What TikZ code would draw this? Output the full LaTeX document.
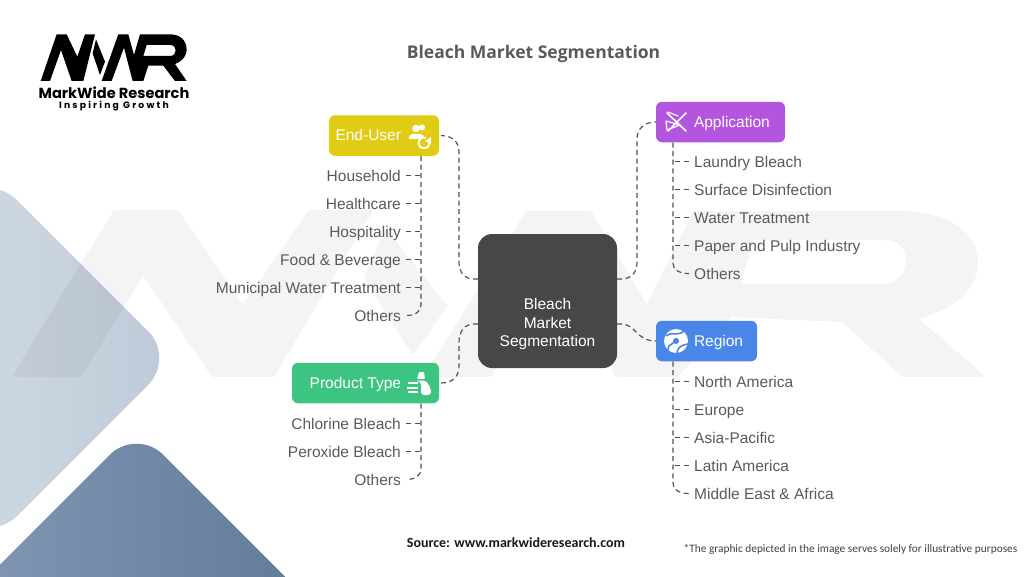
\documentclass[tikz,border=0pt]{standalone}
\usepackage{fontspec}
\setmainfont{Liberation Sans}
\newfontfamily\carlito{Carlito}
\newfontfamily\popp{Poppins}
\newfontfamily\opensans{Open Sans}
\usetikzlibrary{calc}
\definecolor{leafgray}{HTML}{5A5A5A}
\definecolor{linegray}{HTML}{4F4F4F}
\definecolor{hubgray}{HTML}{474747}
\definecolor{euyellow}{HTML}{E0CB15}
\definecolor{apppurple}{HTML}{B455E0}
\definecolor{ptgreen}{HTML}{3CC480}
\definecolor{regblue}{HTML}{4A86E8}
\pgfdeclarehorizontalshading{ltshade}{100bp}{rgb(0bp)=(0.80,0.84,0.88); rgb(52.7bp)=(0.80,0.84,0.88); rgb(79.7bp)=(0.73,0.78,0.84); rgb(100bp)=(0.73,0.78,0.84)}
\pgfdeclarehorizontalshading{dkshade}{100bp}{rgb(0bp)=(0.55,0.63,0.74); rgb(24bp)=(0.55,0.63,0.74); rgb(77.8bp)=(0.33,0.44,0.56); rgb(100bp)=(0.33,0.44,0.56)}
\tikzset{
  leafbase/.style={text=leafgray,font=\fontsize{15.5}{18}\selectfont,inner ysep=0pt,inner xsep=5pt,text height=12.5pt,text depth=1.5pt},
  leafL/.style={leafbase,anchor=east},
  leafR/.style={leafbase,anchor=west},
  catbox/.style={rounded corners=6pt,text=white,inner sep=0pt,minimum height=40.5pt,text height=12pt,text depth=2pt,font=\fontsize{15.5}{18}\selectfont},
  conn/.style={draw=linegray,line width=1.15pt,dash pattern=on 5pt off 3.6pt},
  icon/.style={draw=white,line width=1.6pt,line cap=round,line join=round}
}
\begin{document}
\begin{tikzpicture}[x=1pt,y=-1pt]
\useasboundingbox (0,0) rectangle (1024,576);
\fill[white] (0,0) rectangle (1024,576);
% background diamonds
\begin{scope}
\clip (0,0) rectangle (1024,576);
\path[shade,shading=ltshade,rounded corners=38pt] (-10,173) -- (175,358) -- (-10,543) -- (-195,358) -- cycle;
\path[shade,shading=dkshade,rounded corners=38pt] (136.5,428) -- (400,691.5) -- (136.5,955) -- (-127,691.5) -- cycle;
\end{scope}
% watermark
\begin{scope}[transparency group,opacity=.042]
\filldraw[black,line width=4pt,line join=round] (15,375) -- (80,375) -- (143,272) -- (213,375) -- (273,375) -- (370,212) -- (310,212) -- (243,308) -- (177,212) -- (115,212) -- cycle;
\filldraw[black,line width=4pt,line join=round] (386,232) -- (445,306) -- (413,352) -- (366,278) -- cycle;
\filldraw[black,line width=4pt,line join=round,even odd rule] (427,375) -- (490,375) -- (557,270) -- (617,375) -- (677,375) -- (730,315) -- (843,320) -- (903,375) -- (981,375) -- (915,318) .. controls (960,305) and (976,285) .. (976,262) .. controls (976,232) and (945,213) .. (900,213) -- (695,213) -- (647,308) -- (590,213) -- (527,213) -- cycle
 (752,238) -- (885,238) .. controls (900,238) and (908,248) .. (908,260) .. controls (908,277) and (898,286) .. (880,286) -- (738,286) -- cycle;
\end{scope}
% logo
\begin{scope}[x=0.3333pt,y=-0.3333pt]
\fill[black] (122,243) -- (150,243) -- (183,150) -- (215,243) -- (250,243) -- (285,103) -- (255,103) -- (232,170) -- (200,103) -- (170,103) -- cycle;
\fill[black] (288,118) -- (315,185) -- (300,225) -- (278,160) -- cycle;
\fill[black,even odd rule] (305,243) -- (335,243) -- (372,143) -- (398,243) -- (430,243) -- (445,197) -- (490,197) -- (525,243) -- (560,243) -- (525,192) .. controls (550,182) and (560,165) .. (560,150) .. controls (560,120) and (540,103) .. (510,103) -- (420,103) -- (402,165) -- (385,103) -- (355,103) -- cycle
 (440,135) -- (510,135) .. controls (522,135) and (527,143) .. (527,152) .. controls (527,161) and (520,168) .. (510,168) -- (430,168) -- cycle;
\end{scope}
\node[inner sep=0pt,font=\popp\bfseries\fontsize{14.6}{16}\selectfont] (logoname) at (114,92.5) {MarkWide Research};
\node[inner sep=0pt,font=\popp\bfseries\fontsize{9.2}{11}\selectfont] (logotag) at (114,106.5) {\addfontfeature{LetterSpace=24}Inspiring Growth};
% title
\node[inner sep=0pt,text=leafgray,font=\opensans\bfseries\fontsize{17.5}{20}\selectfont] (title) at (533.5,53.5) {Bleach Market Segmentation};
% hub
\node[fill=hubgray,rounded corners=14pt,minimum width=139pt,minimum height=134pt,inner sep=0pt] (hub) at (547.5,301) {};
\node[text=white,align=center,inner sep=0pt,font=\fontsize{15.5}{18.7}\selectfont] (hubtext) at (547.5,324) {Bleach\\Market\\Segmentation};
% category boxes
\node[catbox,fill=euyellow] (eu) at (384,135.5) {\hbox to 110pt{\hfill End-User\kern38pt}};
\node[catbox,fill=apppurple] (app) at (720.5,122) {\hbox to 129pt{\kern38pt Application\hfill}};
\node[catbox,fill=ptgreen] (pt) at (365.5,383) {\hbox to 147pt{\hfill Product Type\kern38pt}};
\node[catbox,fill=regblue] (reg) at (706.5,341) {\hbox to 101pt{\kern38pt Region\hfill}};
% icons
\fill[white] (416,128.5) circle (3.8pt);
\fill[white,rounded corners=2pt] (408,139) -- (410,134) -- (422,134) -- (425,137) -- (418,139) -- cycle;
\fill[white] (422,127.5) circle (3pt);
\draw[white,line width=1.8pt] (429.5,143) arc (0:-290:5.5pt);
\fill[white] (431,137) -- (431,144) -- (425,141) -- cycle;
\draw[icon] (667,113) -- (686,131);
\draw[icon] (686,113) -- (668,131);
\draw[icon,line width=1.2pt] (666,121) -- (680,125) -- (667,130) -- cycle;
\draw[icon,line width=1.2pt] (668,112) -- (678,116);
\fill[white,rounded corners=1pt] (419,372) -- (424,372) -- (425,379) -- (417,379) -- cycle;
\fill[white,rounded corners=3pt] (415,380.5) -- (426,380.5) -- (431,389) -- (431,395) -- (421,395) -- (421,382) -- cycle;
\draw[white,line width=2pt] (408,383) -- (418,383) (407,387.5) -- (418,387.5) (408,392) -- (418,392);
\fill[white] (676,341) circle (12pt);
\draw[regblue,line width=1.6pt] (666,336) .. controls (672,331) and (677,337) .. (684,331);
\draw[regblue,line width=1.6pt] (668,350) .. controls (668,342) and (676,345) .. (677,338);
\draw[regblue,line width=1.6pt] (677,353) .. controls (678,345) and (684,345) .. (688,344);
\fill[regblue] (676,341) circle (3pt);
% leaves
\node[leafL] (eu1) at (406,175.5) {Household};
\node[leafL] (eu2) at (406,203.5) {Healthcare};
\node[leafL] (eu3) at (406,231.5) {Hospitality};
\node[leafL] (eu4) at (406,259.5) {Food \& Beverage};
\node[leafL] (eu5) at (406,287.5) {Municipal Water Treatment};
\node[leafL] (eu6) at (406,315.5) {Others};
\node[leafR] (ap1) at (689,161.5) {Laundry Bleach};
\node[leafR] (ap2) at (689,189.5) {Surface Disinfection};
\node[leafR] (ap3) at (689,217.5) {Water Treatment};
\node[leafR] (ap4) at (689,245.5) {Paper and Pulp Industry};
\node[leafR] (ap5) at (689,273.5) {Others};
\node[leafL] (pt1) at (406,423.5) {Chlorine Bleach};
\node[leafL] (pt2) at (406,451.5) {Peroxide Bleach};
\node[leafL] (pt3) at (406,479.5) {Others};
\node[leafR] (re1) at (689,381.5) {North America};
\node[leafR] (re2) at (689,409.5) {Europe};
\node[leafR] (re3) at (689,437.5) {Asia-Pacific};
\node[leafR] (re4) at (689,465.5) {Latin America};
\node[leafR] (re5) at (689,493.5) {Middle East \& Africa};
% named connector ends
\coordinate (eut) at (421,156);
\coordinate (apt) at (673,142.5);
\coordinate (ptt) at (421,403.5);
\coordinate (ret) at (673,361.5);
\coordinate (hubEU) at (478,279);
\coordinate (hubAP) at (617,279);
\coordinate (hubPT) at (478,324);
\coordinate (hubRE) at (617,324);
% hub connectors
\draw[conn] (hubEU) -- ++(-4,0) .. controls (465,279) and (459,273) .. (459,262) -- (459,152) .. controls (459,143) and (454,136) .. ($(eu.east)+(2,0)$);
\draw[conn] (hubAP) -- ++(4,0) .. controls (631,279) and (637,273) .. (637,262) -- (637,139) .. controls (637,129) and (644,122) .. (app.west);
\draw[conn] (hubPT) -- ++(-4,0) .. controls (465,324) and (459,331) .. (459,342) -- (459,366) .. controls (459,376) and (453,383) .. ($(pt.east)+(2,0)$);
\draw[conn] (hubRE) -- ++(4,0) .. controls (636,324) and (636,341) .. (reg.west);
% trunks
\draw[conn] (eut) -- (421,305) .. controls (421,311) and (416,315.5) .. (eu6.east);
\draw[conn] (apt) -- (673,263) .. controls (673,269) and (678,273.5) .. (ap5.west);
\draw[conn] (ptt) -- (421,469) .. controls (421,475) and (416,479.5) .. (pt3.east);
\draw[conn] (ret) -- (673,483) .. controls (673,489) and (678,493.5) .. (re5.west);
% branches
\foreach \n in {eu1,eu2,eu3,eu4,eu5} \draw[conn] (\n.east) -- (\n.east -| eut);
\foreach \n in {ap1,ap2,ap3,ap4} \draw[conn] (\n.west) -- (\n.west -| apt);
\foreach \n in {pt1,pt2} \draw[conn] (\n.east) -- (\n.east -| ptt);
\foreach \n in {re1,re2,re3,re4} \draw[conn] (\n.west) -- (\n.west -| ret);
% footer
\node[inner sep=0pt,font=\carlito\bfseries\fontsize{14}{16}\selectfont,text=black!90] (src) at (516,542.5) {Source: www.markwideresearch.com};
\node[inner sep=0pt,font=\carlito\fontsize{11.35}{14}\selectfont,text=black!75] (note) at (850.5,549.5) {*The graphic depicted in the image serves solely for illustrative purposes};
\end{tikzpicture}
\end{document}
